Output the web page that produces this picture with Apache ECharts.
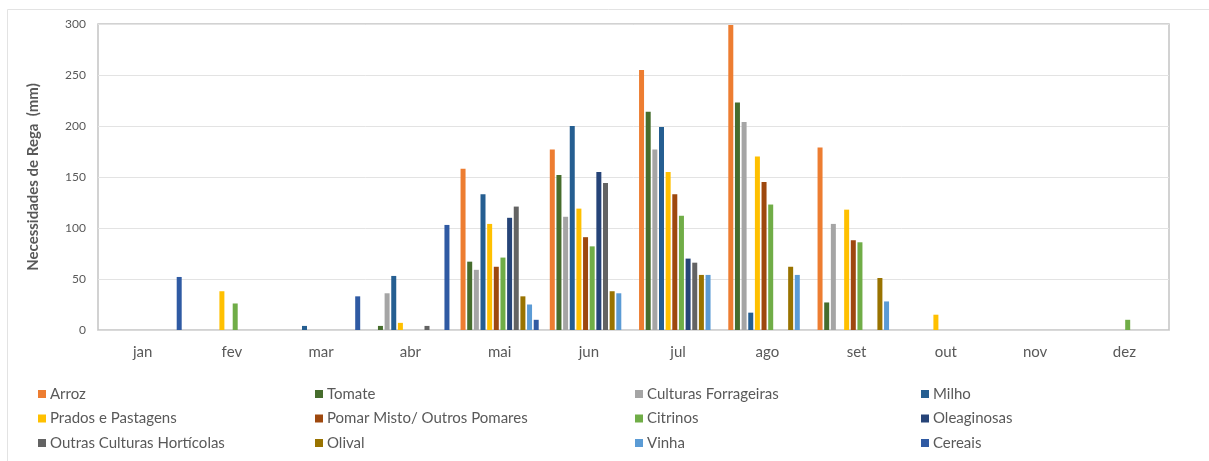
<!DOCTYPE html>
<html>
<head>
<meta charset="utf-8">
<script src="https://cdn.jsdelivr.net/npm/echarts@6/dist/echarts.min.js"></script>
<style>
  html, body { margin: 0; padding: 0; background: #ffffff; }
  #chart { width: 1209px; height: 461px; }
</style>
</head>
<body>
<div id="chart"></div>
<script>
// Necessidades de rega mensais por cultura (mm)
const months = ['jan', 'fev', 'mar', 'abr', 'mai', 'jun', 'jul', 'ago', 'set', 'out', 'nov', 'dez'];

const arroz      = [0, 0, 0, 0, 158, 177, 255, 299, 179, 0, 0, 0];
const tomate     = [0, 0, 0, 4, 67, 152, 214, 223, 27, 0, 0, 0];
const forrageiras= [0, 0, 0, 36, 59, 111, 177, 204, 104, 0, 0, 0];
const milho      = [0, 0, 4, 53, 133, 200, 199, 17, 0, 0, 0, 0];
const prados     = [0, 38, 0, 7, 104, 119, 155, 170, 118, 15, 0, 0];
const pomar      = [0, 0, 0, 0, 62, 91, 133, 145, 88, 0, 0, 0];
const citrinos   = [0, 26, 0, 0, 71, 82, 112, 123, 86, 0, 0, 10];
const oleaginosas= [0, 0, 0, 0, 110, 155, 70, 0, 0, 0, 0, 0];
const horticolas = [0, 0, 0, 4, 121, 144, 66, 0, 0, 0, 0, 0];
const olival     = [0, 0, 0, 0, 33, 38, 54, 62, 51, 0, 0, 0];
const vinha      = [0, 0, 0, 0, 25, 36, 54, 54, 28, 0, 0, 0];
const cereais    = [52, 0, 33, 103, 10, 0, 0, 0, 0, 0, 0, 0];

const yTicks = [0, 50, 100, 150, 200, 250, 300];

const seriesDefs = [
  ['Arroz', arroz, '#ED7D31'],
  ['Tomate', tomate, '#466D2D'],
  ['Culturas Forrageiras', forrageiras, '#A5A5A5'],
  ['Milho', milho, '#255E91'],
  ['Prados e Pastagens', prados, '#FFC000'],
  ['Pomar Misto/ Outros Pomares', pomar, '#9E480E'],
  ['Citrinos', citrinos, '#70AD47'],
  ['Oleaginosas', oleaginosas, '#264478'],
  ['Outras Culturas Hortícolas', horticolas, '#636363'],
  ['Olival', olival, '#997300'],
  ['Vinha', vinha, '#5B9BD5'],
  ['Cereais', cereais, '#2F5AA3']
];

const textColor = '#595959';
const font = 'Lato, "Open Sans", sans-serif';

const series = seriesDefs.map(([name, values, color]) => ({
  name: name,
  type: 'bar',
  data: values.map(v => (v === 0 ? null : v)),
  barWidth: 5,
  barGap: '33%',
  itemStyle: { color: color },
  emphasis: { disabled: true }
}));

// Legend laid out as 4 columns x 3 rows
const legendColumns = [
  { left: 33, names: ['Arroz', 'Prados e Pastagens', 'Outras Culturas Hortícolas'] },
  { left: 310, names: ['Tomate', 'Pomar Misto/ Outros Pomares', 'Olival'] },
  { left: 630, names: ['Culturas Forrageiras', 'Citrinos', 'Vinha'] },
  { left: 916, names: ['Milho', 'Oleaginosas', 'Cereais'] }
];

const legends = legendColumns.map(col => ({
  left: col.left,
  top: 381,
  orient: 'vertical',
  itemWidth: 8,
  itemHeight: 8,
  itemGap: 8.5,
  icon: 'rect',
  data: col.names,
  selectedMode: false,
  textStyle: { color: textColor, fontSize: 15, fontFamily: font, lineHeight: 16, padding: [0, 0, 0, -1] }
}));

const chart = echarts.init(document.getElementById('chart'), null, { renderer: 'canvas' });
chart.setOption({
  backgroundColor: '#ffffff',
  animation: false,
  graphic: [{
    type: 'rect',
    shape: { x: 7.5, y: 9.5, width: 1230, height: 480 },
    style: { fill: 'none', stroke: '#e3e3e3', lineWidth: 1 },
    silent: true,
    z: -10
  }],
  grid: {
    left: 98, right: 40, top: 24, bottom: 131,
    show: true, borderColor: '#c4c4c4', borderWidth: 1.5, backgroundColor: 'transparent'
  },
  legend: legends,
  xAxis: {
    type: 'category',
    data: months,
    axisTick: { show: false },
    axisLine: { show: true, lineStyle: { color: '#d9d9d9', width: 1 } },
    axisLabel: { color: textColor, fontSize: 15, fontFamily: font, margin: 15 }
  },
  yAxis: {
    type: 'value',
    min: yTicks[0],
    max: yTicks[yTicks.length - 1],
    interval: yTicks[1] - yTicks[0],
    name: 'Necessidades de Rega  (mm)',
    nameLocation: 'middle',
    nameGap: 57,
    nameTextStyle: { color: textColor, fontSize: 15, fontWeight: 'bold', fontFamily: font },
    axisLine: { show: false },
    axisTick: { show: false },
    axisLabel: { color: textColor, fontSize: 12, fontFamily: font, margin: 12 },
    splitLine: { lineStyle: { color: '#e3e3e3', width: 1 } }
  },
  series: series
});
</script>
</body>
</html>
